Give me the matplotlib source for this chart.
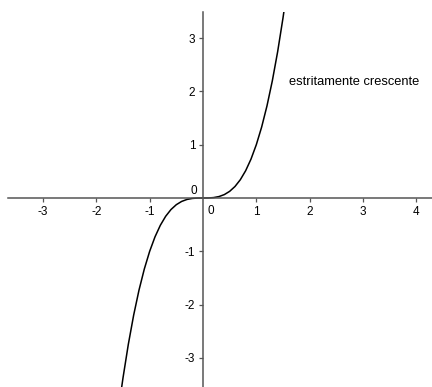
import matplotlib
matplotlib.use('Agg')
import matplotlib.pyplot as plt

plt.rcParams['font.family'] = ['Liberation Sans', 'DejaVu Sans']
plt.rcParams['axes.unicode_minus'] = False

# points of the curve
x_vals = [-1.55, -1.5, -1.4, -1.3, -1.2, -1.1, -1.0, -0.9, -0.8, -0.7, -0.6, -0.5,
          -0.4, -0.3, -0.2, -0.1, 0.0, 0.1, 0.2, 0.3, 0.4, 0.5, 0.6, 0.7, 0.8,
          0.9, 1.0, 1.1, 1.2, 1.3, 1.4, 1.5, 1.55]
y_vals = [-3.724, -3.375, -2.744, -2.197, -1.728, -1.331, -1.0, -0.729, -0.512, -0.343,
          -0.216, -0.125, -0.064, -0.027, -0.008, -0.001, 0.0, 0.001, 0.008, 0.027,
          0.064, 0.125, 0.216, 0.343, 0.512, 0.729, 1.0, 1.331, 1.728, 2.197, 2.744,
          3.375, 3.724]

x_ticks = [-3, -2, -1, 1, 2, 3, 4]
y_ticks = [-3, -2, -1, 1, 2, 3]
label = 'estritamente crescente'

fig = plt.figure(figsize=(4.32, 3.87), dpi=100)
ax = fig.add_axes([8 / 432, 0, 424 / 432, 375 / 387])
ax.set_xlim(-3.656, 4.294)
ax.set_ylim(-3.544, 3.488)

ax.plot(x_vals, y_vals, color='black', lw=1.1)

# axes through the origin
for side in ['top', 'right']:
    ax.spines[side].set_visible(False)
ax.spines['left'].set_position('zero')
ax.spines['bottom'].set_position('zero')
for side in ['left', 'bottom']:
    ax.spines[side].set_color('#555555')
    ax.spines[side].set_linewidth(1.1)

ax.set_xticks(x_ticks)
ax.set_yticks(y_ticks)
ax.tick_params(axis='both', direction='out', length=3, width=0.9, color='#555555',
               labelsize=8.5, pad=2.5)

ax.text(-0.18, 0.13, '0', fontsize=8.5, ha='center', va='center')
ax.text(0.14, -0.25, '0', fontsize=8.5, ha='center', va='center')

ax.text(1.62, 2.18, label, fontsize=9.3, ha='left', va='center')

fig.savefig('out.png', dpi=100)
